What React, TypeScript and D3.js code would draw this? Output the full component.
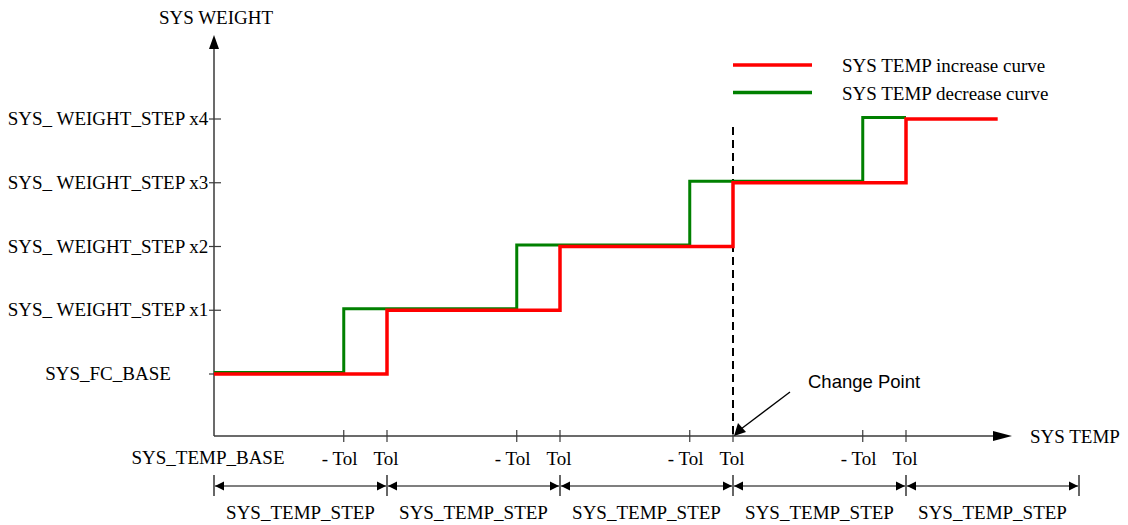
import React from "react";
import * as d3 from "d3";

const weightLevels = [0, 1, 2, 3, 4];
const weightLabels = [
  "SYS_FC_BASE",
  "SYS_ WEIGHT_STEP x1",
  "SYS_ WEIGHT_STEP x2",
  "SYS_ WEIGHT_STEP x3",
  "SYS_ WEIGHT_STEP x4",
];
const increaseTemps = [0, 1, 2, 3, 4, 4.53];
const increaseWeights = [0, 1, 2, 3, 4, 4];
const decreaseTemps = [0, 0.75, 1.75, 2.75, 3.75, 4];
const decreaseWeights = [0, 1, 2, 3, 4, 4];
const tolTicks = [0.75, 1, 1.75, 2, 2.75, 3, 3.75, 4];
const tolLabels = ["- Tol", "Tol", "- Tol", "Tol", "- Tol", "Tol", "- Tol", "Tol"];
const stepBounds = [0, 1, 2, 3, 4, 5];
const stepLabel = "SYS_TEMP_STEP";
const changePoint = 3;
const legendItems = [
  { name: "SYS TEMP increase curve", color: "#ff0000" },
  { name: "SYS TEMP decrease curve", color: "#008000" },
];

const SERIF = "'Liberation Serif', 'Times New Roman', serif";
const SANS = "'Liberation Sans', Arial, sans-serif";

export default function App() {
  const W = 1128, H = 525;
  const x = d3.scaleLinear().domain([0, 5]).range([214, 1079]);
  const y = d3.scaleLinear().domain([0, 4]).range([374, 119]);
  const axisY = 436;
  const axisX = x(0);
  const xEnd = 1012;
  const yTop = 35;

  const line = d3
    .line<[number, number]>()
    .x((d) => x(d[0]))
    .y((d) => y(d[1]))
    .curve(d3.curveStepAfter);

  const inc = increaseTemps.map((t, i) => [t, increaseWeights[i]] as [number, number]);
  const dec = decreaseTemps.map((t, i) => [t, decreaseWeights[i]] as [number, number]);

  const dimY = 486;
  const ah = 9, aw = 4.5;
  const axisColor = "#3a3a3a";

  return (
    <svg width={W} height={H} style={{ position: "absolute", left: 0, top: 0, background: "#fff" }}>
      {/* axes */}
      <line x1={axisX} y1={axisY} x2={axisX} y2={yTop + 12} stroke={axisColor} strokeWidth={1.5} />
      <path d={`M${axisX},${yTop} L${axisX - 5},${yTop + 14} L${axisX + 5},${yTop + 14} Z`} fill="#000" />
      <line x1={axisX} y1={axisY} x2={xEnd - 12} y2={axisY} stroke={axisColor} strokeWidth={1.5} />
      <path d={`M${xEnd},${axisY} L${xEnd - 19},${axisY - 5} L${xEnd - 19},${axisY + 5} Z`} fill="#000" />
      <text x={216} y={24} fontFamily={SERIF} fontSize={19} textAnchor="middle">SYS WEIGHT</text>
      <text x={1030} y={443} fontFamily={SERIF} fontSize={19}>SYS TEMP</text>

      {/* y ticks + labels */}
      {weightLevels.map((v, i) => (
        <g key={"y" + i}>
          <line x1={axisX - 5} x2={axisX + 7} y1={y(v)} y2={y(v)} stroke={axisColor} strokeWidth={1.2} />
          <text x={108} y={y(v) + 6} fontFamily={SERIF} fontSize={19} textAnchor="middle">
            {weightLabels[i]}
          </text>
        </g>
      ))}

      {/* x ticks + labels */}
      {tolTicks.map((t, i) => (
        <g key={"x" + i}>
          <line x1={x(t)} x2={x(t)} y1={axisY - 6} y2={axisY + 6} stroke={axisColor} strokeWidth={1.2} />
          <text x={x(t) - (tolLabels[i].startsWith("-") ? 4 : 1)} y={465} fontFamily={SERIF} fontSize={19} textAnchor="middle">
            {tolLabels[i]}
          </text>
        </g>
      ))}
      <text x={208} y={464} fontFamily={SERIF} fontSize={19} textAnchor="middle">SYS_TEMP_BASE</text>

      {/* change point dashed line */}
      <line x1={x(changePoint)} x2={x(changePoint)} y1={127} y2={axisY} stroke="#000" strokeWidth={2} strokeDasharray="8,5" />

      {/* curves */}
      <path d={line(dec) || ""} fill="none" stroke="#008000" strokeWidth={3} transform="translate(0,-1.5)" />
      <path d={line(inc) || ""} fill="none" stroke="#ff0000" strokeWidth={3.5} />

      {/* change point annotation */}
      <line x1={790} y1={392} x2={x(changePoint) + 8} y2={axisY - 7} stroke="#000" strokeWidth={1.3} />
      <path
        d={`M${x(changePoint) + 1},${axisY} L${x(changePoint) + 5},${axisY - 13} L${x(changePoint) + 13},${axisY - 4} Z`}
        fill="#000"
      />
      <text x={808} y={388} fontFamily={SANS} fontSize={18.5}>Change Point</text>

      {/* dimension lines */}
      {stepBounds.map((b, i) => (
        <line key={"b" + i} x1={x(b)} x2={x(b)} y1={475} y2={496} stroke="#000" strokeWidth={1.2} />
      ))}
      {stepBounds.slice(0, -1).map((b, i) => {
        const x0 = x(b) + 1, x1 = x(stepBounds[i + 1]) - 1;
        return (
          <g key={"d" + i}>
            <line x1={x0} x2={x1} y1={dimY} y2={dimY} stroke="#000" strokeWidth={1.2} />
            <path d={`M${x0},${dimY} L${x0 + ah},${dimY - aw} L${x0 + ah},${dimY + aw} Z`} fill="#000" />
            <path d={`M${x1},${dimY} L${x1 - ah},${dimY - aw} L${x1 - ah},${dimY + aw} Z`} fill="#000" />
            <text x={(x0 + x1) / 2} y={519} fontFamily={SERIF} fontSize={19} textAnchor="middle">
              {stepLabel}
            </text>
          </g>
        );
      })}

      {/* legend */}
      {legendItems.map((it, i) => (
        <g key={"l" + i}>
          <line x1={733} x2={812} y1={65 + i * 27.5} y2={65 + i * 27.5} stroke={it.color} strokeWidth={3.5} />
          <text x={842} y={72 + i * 27.5} fontFamily={SERIF} fontSize={19}>{it.name}</text>
        </g>
      ))}
    </svg>
  );
}
